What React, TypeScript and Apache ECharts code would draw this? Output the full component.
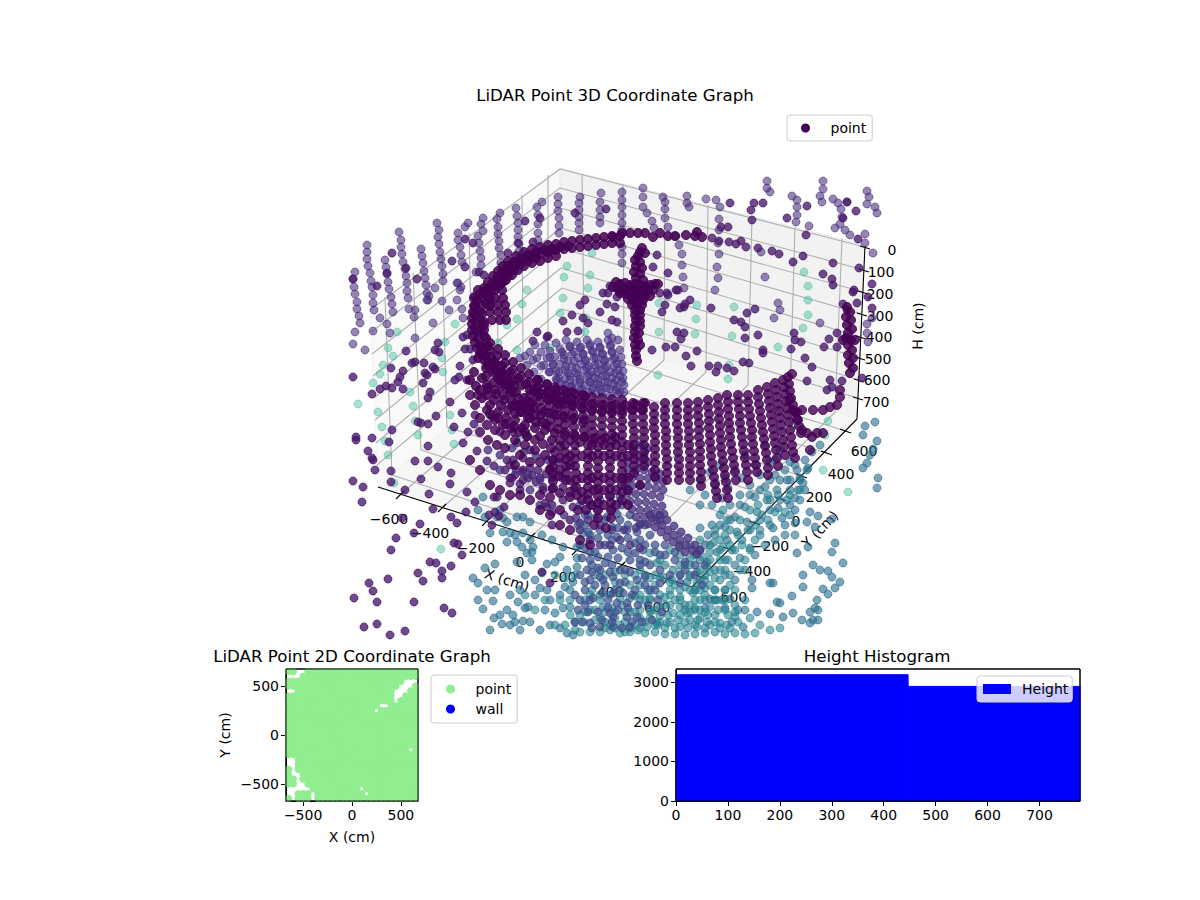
import { useEffect, useRef } from 'react'
import * as echarts from 'echarts'

// ── 3D panel: points, in the projected view plane ──
const lightPoints = [397,332,388,348,393,356,383,365,380,374,373,383,410,392,442,358,443,372,445,342,455,324,498,343,507,325,517,350,517,319,522,304,527,290,567,266,564,277,563,298,560,313,585,332,586,318,550,348,592,253,590,275,588,288,
  697,305,696,319,695,334,734,307,732,336,778,347,804,272,808,286,808,300,808,315,803,328,659,303,659,332,658,375,728,379,729,365,
  358,404,378,412,413,406,382,427,415,421,418,435,452,430,454,444,385,441,388,455,394,483,441,549,450,415,520,437,823,470,848,492,828,421,825,435,793,425]

const palePoints = [355,272,353,279,354,287,355,294,357,302,357,309,359,316,360,323,367,245,367,252,367,259,368,266,370,273,371,281,372,287,373,295,373,303,374,310,
  385,260,386,267,387,274,388,282,389,289,391,297,392,304,393,312,399,232,401,240,401,247,402,254,403,262,405,269,406,276,407,283,407,291,408,298,
  421,249,422,256,423,263,424,271,425,278,426,285,427,293,428,300,437,223,439,230,438,237,439,244,440,252,441,259,442,266,443,274,443,281,
  458,233,458,240,460,247,461,255,462,262,458,283,460,290,468,223,465,227,483,218,481,224,483,231,478,236,479,243,480,251,481,258,481,265,476,272,
  500,213,497,219,498,227,498,234,499,241,499,248,501,255,501,263,502,272,516,208,517,216,518,223,518,230,518,237,519,244,519,251,
  542,202,537,207,538,215,538,224,538,233,538,240,558,197,558,204,558,211,559,218,559,226,559,233,580,197,579,203,579,210,579,217,579,223,579,230,601,193,600,202,600,210,600,217,600,223,
  380,318,387,324,373,331,390,333,365,350,353,344,355,332,409,309,415,310,414,317,415,338,435,288,427,300,429,296,442,301,433,323,457,300,462,309,449,310,463,318,474,296,457,283,461,287,
  767,181,767,188,770,192,823,181,823,189,820,196,822,202,867,191,869,197,867,204,792,196,797,200,797,207,797,215,796,222,809,226,833,199,838,203,841,209,847,202,842,217,840,224,835,228,845,230,850,235,865,234,865,243,873,253,875,207,877,213,
  706,199,716,200,720,207,719,219,719,230,718,243,719,254,717,267,718,278,715,290,687,196,687,203,689,207,622,192,622,200,622,207,622,215,622,223,622,230,622,247,622,254,622,263,643,188,643,197,643,207,647,213,652,221,654,228,
  663,197,665,202,665,209,665,218,668,227,676,236,679,245,682,254,682,265,683,277,684,288,765,277,761,252,778,303,780,310,774,318,820,323,867,324,872,318,867,333,868,342]

const outerSteel = [875,422,865,426,863,435,877,441,873,449,870,455,867,463,863,468,878,478,877,488,
  808,468,803,483,798,490,795,498,787,500,778,508,790,505,795,510,782,518,773,528,785,525,795,523,810,512,818,516,807,522,815,527,832,519,835,543,832,552,797,553,808,547,813,565,820,570,828,571,843,563,832,577,840,582,803,575,803,587,792,596,823,589,828,594,835,588,817,600,815,608,818,610,810,612,818,620,793,613,777,602,780,603,770,583,773,583,752,580,752,588,757,612,745,610,738,610,725,608,732,622,743,627,770,614,783,617,802,620,810,623,813,620,730,599,722,600,710,599,
  473,578,478,583,485,568,495,564,483,609,493,601,507,610,518,602,528,607,494,618,490,630,502,624,513,615,515,622,523,621,525,608,555,613,563,608,570,607,520,630,567,633,573,635,603,607,540,588,547,590,547,564,555,562,560,557,577,558,577,567,567,570,573,582,565,587,542,573,532,560,532,552,527,553,517,562,503,518,503,532,510,533,517,542,507,542,515,535,522,547,
  483,497,485,517,478,510,500,510,490,533,497,517,517,517,523,517,507,522,530,522,523,533,530,540,542,535,552,540,563,547,577,547,583,533,533,547,
  525,575,535,580,550,600,560,595,570,590,535,595,545,610,500,615,510,625,530,622,540,630,550,625,560,628,575,622,487,590,478,600,495,590,510,595,520,590]

const axisBand = [807,470,800,478,790,490,780,500,770,510,760,520,750,530,742,540,732,550,725,560,715,570,705,580,695,590,
  797,470,787,480,777,490,767,500,757,512,747,522,737,532,727,540,717,552,707,562,697,572,687,582,
  775,475,765,487,755,497,745,507,735,517,725,527,715,535,705,545,695,555,685,565,
  790,462,770,462,760,475,750,485,740,495,730,505,720,515,712,525,708,535,700,528,742,478,728,488,722,498,712,505,
  735,470,725,478,715,485,705,495,700,505,720,465,710,472,700,480,690,490,745,455,765,445,780,450,755,465,
  800,500,790,515,770,525,760,535,750,548,740,558,735,565,725,575,715,590,705,600,695,610,685,605,
  800,480,790,480,780,480,770,480,785,470,775,460,795,465,805,460,812,452,820,445,
  760,490,750,495,740,505,730,520,720,525,710,545,700,560,690,575,680,575,
  805,490,795,535,785,535,775,540,765,545,755,555,745,570,735,580,725,590,715,600,705,608]

const tealPoints = [657,623,647,627,667,623,680,627,673,613,687,613,697,627,707,622,720,623,660,607,650,600,680,597,693,593,670,590,690,577,707,567,720,560,723,547,713,543,703,557,673,570,663,577,657,563,650,553,727,520,723,510,
  645,633,655,632,665,634,675,634,685,635,695,634,705,633,715,632,725,634,735,633,745,634,640,618,650,612,660,616,670,605,680,607,690,605,700,610,710,607,717,600,725,590,700,600,690,620,705,628,715,615,727,625,735,617,
  640,600,648,590,655,585,665,597,675,585,685,587,697,583,705,575,715,578,725,570,690,565,680,555,672,580,665,565,655,575,645,575,640,585,
  600,632,610,630,620,633,630,632,638,630,595,620,605,622,615,618,625,622,635,612,612,608,622,605,630,612,600,600,590,610,584,622,580,632,635,596,
  620,590,630,585,640,570,615,582,592,590,585,600,
  650,610,658,625,668,615,678,620,688,628,698,620,708,615,718,610,728,615,738,622,640,628,630,628,620,625,610,625,600,618,
  690,590,700,590,710,585,720,580,730,575,735,590,725,600,715,600,705,595,695,600,685,610,675,600,665,605,655,610,645,600,
  700,570,710,560,720,550,730,545,738,535,725,535,715,530,700,540,690,545,680,545,670,550,660,560,
  735,605,745,600,750,618,760,625,770,630,780,628,755,633,
  740,570,745,560,750,550,755,540,760,530,768,520,775,512,785,512,
  595,575,605,575,615,572,625,575,635,575,650,578,660,578,670,582,680,590,695,590,705,588,715,590,730,585,
  590,595,600,595,610,595,620,598,630,598,640,595,650,598,660,595,670,595,680,600,695,608,705,612,715,622,725,610,735,612,
  585,612,595,610,605,612,615,612,625,612,640,610,650,618,660,622,670,622,680,615,690,612,700,618,710,625,720,628,730,628,
  590,632,605,628,615,628,625,632,635,625,645,622,655,625,665,628,675,628,685,622,695,625,
  700,580,710,572,720,570,728,560,735,550,742,545,748,530,755,525,762,515,770,500,778,495,790,495,800,490,
  680,565,690,558,700,550,710,552,720,540,730,530,740,520,750,510,758,505,768,495,
  555,575,565,578,575,575,560,600,570,600,580,615,570,615,555,625,565,625,575,630,545,600,535,610,525,595]

const slatePoints = [590,560,587,570,605,563,617,537,613,550,622,548,630,560,635,553,643,550,600,577,590,580,603,580,613,577,620,583,637,580,645,577,613,593,623,593,617,603,627,603,603,593,593,598,585,605,610,613,613,617,627,617,590,623,600,627,613,627,630,627,637,617,650,590,660,583,680,583,702,585,
  585,548,595,552,605,545,590,535,600,530,612,527,620,520,628,538,640,540,650,535,655,545,665,545,675,552,685,562,695,565,660,555,645,562,625,570,612,565,598,568,585,582,592,572,608,600,632,595,
  588,515,598,510,612,510,622,505,630,515,640,525,612,540,605,520,585,525,
  580,505,590,505,600,500,610,497,620,497,585,515,595,518,607,517,617,514,627,530,637,532,645,525,578,525,588,532,598,538,608,535,618,528,628,525,635,543,645,545,655,552,665,555,675,560,685,570,695,575,705,565,
  580,545,590,552,598,557,608,557,618,558,628,552,640,560,650,565,660,570,670,575,680,575,
  582,558,592,565,600,570,610,572,620,570,630,572,640,565,645,585,655,590,635,590,625,582,615,590,605,585,595,585,585,590,580,575,575,595,578,610,588,612,598,612,608,608,618,610,628,608,638,605,648,605,658,600,
  582,622,592,628,602,620,612,622,622,628,632,622,642,622,652,620,662,612,580,600,590,600,575,622]

const blobPoints = [625,478,632,478,640,478,648,478,656,480,663,482,625,485,632,486,640,486,648,486,656,488,663,490,628,493,636,494,644,494,652,495,660,497,630,501,638,502,646,502,654,504,662,506,632,509,640,510,648,510,656,512,664,514,636,517,644,517,652,518,660,520,640,524,648,524,
  650,515,656,520,662,525,668,530,674,535,680,540,686,545,692,550,697,554,655,527,661,532,667,537,673,542,679,547,685,552,660,515,667,520,674,526,681,532,688,538,695,545,700,550,
  628,470,636,470,644,470,652,472,660,474,640,462,648,462,628,462,636,455,644,455,633,448,640,445,648,448,
  488,450,500,455,512,448,524,452,536,456,548,460,558,462,500,470,516,470,528,474,540,480,552,478,562,478,574,488,
  530,490,540,505,552,512,564,515,576,518,588,520,600,525,612,530,624,530,636,528,
  580,530,590,540,600,545,610,545,620,540,630,545,640,548]

const fanColumns = [520,358,527,365,534,372,541,379,530,352,537,358,544,365,550,372,556,379,
  550,357,553,364,556,371,559,378,562,385,562,352,564,359,566,366,568,373,570,380,572,387,
  570,347,572,354,574,361,576,368,578,375,580,382,582,389,584,396,581,347,583,354,585,361,587,368,589,375,590,382,592,389,
  590,344,592,351,594,358,595,365,597,372,598,379,600,386,602,393,600,347,602,354,604,361,605,368,606,375,608,382,610,389,610,396,
  611,345,612,352,613,359,614,366,615,373,616,380,617,387,618,394,620,350,621,357,622,364,623,371,623,378,624,385,624,392,612,338,618,340,608,333,
  525,356,533,360,541,366,549,372,557,380,565,385,535,345,541,352,547,358,553,365,559,372,565,379,571,386,
  545,345,550,351,555,357,560,364,565,370,570,376,575,383,580,390,556,343,560,349,564,355,568,361,572,367,576,373,580,379,584,385,588,392,
  566,340,570,346,574,352,578,358,581,364,584,370,587,376,590,382,593,388,596,394,577,342,580,348,583,354,586,360,589,366,592,372,595,378,598,384,601,390,
  587,340,590,346,593,352,596,358,598,364,601,370,603,376,605,382,607,388,598,342,600,348,603,354,605,360,607,366,610,372,612,378,614,384,616,390,
  608,340,610,346,612,352,615,358,617,364,618,370,620,376,622,382,620,392]

const ringColumns = [538,380,538,387,539,394,540,401,541,408,541,415,542,422,547,385,548,392,548,399,549,406,549,413,550,420,550,427,
  555,387,556,394,556,401,557,408,557,415,558,422,558,429,563,390,564,397,564,404,565,411,565,418,565,425,565,432,
  572,392,572,399,573,406,573,413,573,420,574,427,574,434,582,395,582,402,583,409,583,416,583,423,584,430,584,437,
  592,397,592,404,592,411,592,418,592,425,593,432,593,439,602,398,602,405,602,412,602,419,602,426,602,433,602,440,
  612,399,612,406,612,413,612,420,612,427,612,434,612,441,622,400,622,407,622,414,622,421,622,428,622,435,622,442,
  633,403,633,410,633,417,633,424,634,431,634,438,634,445,634,452,634,459,634,466,634,473,643,403,643,410,643,417,643,424,644,431,644,438,644,445,644,452,644,459,644,466,
  654,407,654,414,654,421,654,428,655,435,655,442,655,449,655,456,655,463,655,470,655,477,
  665,403,665,410,665,417,665,424,666,431,666,438,666,445,666,452,667,459,667,466,667,473,667,480,
  677,403,677,410,677,417,677,424,678,431,678,438,678,445,678,452,679,459,679,466,679,473,679,480,
  688,403,688,410,688,417,688,424,689,431,689,438,689,445,690,452,690,459,690,466,690,473,690,480,
  698,402,698,409,698,416,699,423,699,430,699,437,700,444,700,451,700,458,700,465,701,472,701,479,701,486,
  708,400,708,407,709,414,709,421,709,428,710,435,710,442,711,449,711,456,712,463,713,470,714,477,715,484,716,491,717,498,
  718,398,718,405,719,412,719,419,720,426,720,433,721,440,721,447,722,454,723,461,724,468,725,475,726,482,727,490,728,498,
  727,395,728,402,728,409,729,416,729,423,730,430,730,437,731,444,732,451,733,458,734,465,735,472,736,480,
  738,395,738,402,739,409,740,416,740,423,741,430,742,437,743,444,744,451,745,458,746,465,747,472,748,480,
  748,395,748,402,749,409,750,416,751,423,752,430,752,437,753,444,754,451,755,458,756,465,757,472,
  758,390,758,397,759,404,760,411,761,418,762,425,763,432,764,439,765,446,766,453,767,460,768,468,768,475,
  767,387,768,394,769,401,770,408,771,415,772,422,773,429,774,436,775,443,776,450,777,458,778,466,
  775,383,776,390,777,397,778,404,779,411,780,418,781,425,782,432,783,440,784,447,785,455,
  783,380,784,387,785,394,786,401,787,408,788,415,789,422,790,430,791,437,792,445,793,452,795,458,
  788,377,789,384,790,391,791,398,793,405,795,412,797,419,799,426,801,433,792,374,
  797,412,802,410,813,410,823,410,830,407,837,405,840,397,840,390,790,400,793,410,798,420,802,430,807,433,812,437,817,433,823,433,810,450,
  565,445,565,452,566,459,566,466,566,473,566,480,575,445,575,452,575,459,575,466,576,473,576,480,576,487,
  588,445,588,452,588,459,588,466,588,473,588,480,588,487,588,494,588,500,598,447,598,454,598,461,598,468,598,475,598,482,598,489,598,496,598,503,598,510,598,518,
  610,447,610,454,610,461,610,468,610,475,610,482,610,489,610,496,611,503,611,510,611,518,622,450,622,457,622,464,622,471,622,478,622,485,622,492,622,500,553,460,553,467,553,474,553,481,553,488,
  594,525,606,528,586,510,582,500,577,495,570,492,
  487,410,495,420,503,425,511,428,519,432,527,436,535,440,543,444,551,448,505,435,515,440,525,445,535,450,545,455,555,452,560,446,495,430,487,425,480,418,475,405,470,395,478,395,520,455,530,462,540,462,550,470,560,470,570,465,515,465,505,448,497,445,488,440,480,432,540,495,550,497,560,493,570,497,578,510,560,510,550,515,540,510,530,500,520,495,510,495,500,490,490,485,480,470,470,460,560,525,570,530,580,540,590,545,
  560,440,570,440,580,442,592,445,604,445,616,445,628,445,560,458,570,456,582,456,592,456,604,456,616,456,628,456,558,476,570,480,582,478,592,478,604,478,616,478,628,478,
  594,490,604,490,616,490,628,490,640,485,582,492,592,505,604,505,616,505,628,505]

const ringBand = [620,236,612,236,604,237,596,238,588,239,580,240,572,241,564,242,556,244,548,245,540,247,532,249,524,252,516,256,508,261,503,266,498,271,493,276,488,282,484,288,480,294,477,300,475,306,473,312,472,318,472,324,472,330,473,336,475,342,477,348,480,354,484,360,488,366,493,372,498,378,504,384,510,389,
  620,243,612,243,604,244,596,245,588,246,580,247,572,248,564,249,556,250,548,252,540,254,532,256,524,259,516,263,510,268,506,273,500,279,495,285,491,291,488,297,486,303,
  556,256,548,258,540,261,532,263,524,266,518,270,512,275,506,280,500,285,495,290,502,290,495,298,503,298,490,305,498,305,505,305,490,312,498,312,506,312,492,320,500,320,506,320,484,325,480,312,480,320,480,330,484,336,
  490,350,497,356,505,363,513,370,521,376,529,382,537,387,547,392,556,396,566,399,575,401,585,403,595,404,605,405,615,405,625,405,635,404,645,403,
  482,346,490,343,498,349,505,355,513,362,521,368,529,374,537,380,547,384,556,389,566,392,575,394,585,396,
  486,368,494,368,500,372,506,376,514,380,522,385,530,390,538,396,548,400,558,404,
  480,390,487,395,494,400,501,405,508,410,515,413,487,385,495,390,503,395,511,400,519,405,527,410,535,415,490,405,498,412,506,418,500,380,508,386,516,392,524,398,532,403,
  515,420,525,425,535,428,545,430,555,433,565,435,575,436,585,437,595,438,605,438,615,437,540,436,552,440,525,432,
  478,290,486,290,474,298,482,298,490,298,474,306,482,306,490,306,474,314,482,314,476,322,484,322,476,330,484,330,478,338,486,338,480,346,488,346,483,354,491,357,488,362,496,364,494,370,502,372,500,377,508,380,506,383,514,386,512,390,
  568,246,560,247,552,249,544,250,536,252,528,255,520,259,514,262,508,266,502,272,497,278,492,284,488,290,536,258,528,261,520,265,514,270,508,276,503,282,498,286,
  478,358,486,356,494,362,502,366,510,372,518,378,526,384,534,390,542,394,552,398,562,402,572,405,582,408,592,410,602,411,612,411,622,411,632,410,642,410,
  486,376,494,382,502,386,510,392,518,398,526,402,534,408,544,412,554,414,564,416,574,418,584,420,
  474,372,482,378,488,388,496,394,504,400,512,406,520,412,528,418,536,422,546,424,
  470,380,476,386,482,398,490,414,498,418,506,424,514,426,522,428,530,395,530,402,530,410,530,418,522,405,522,412,515,405,
  613,237,622,233,630,233,638,233,645,233,653,237,660,233,668,236,675,236,686,235,695,236,697,232,702,237,
  642,248,640,252,638,256,645,253,635,260,640,262,636,266,642,268,634,272,640,274,636,278,643,280,616,282,620,284,625,283,630,285,635,284,640,285,645,286,650,285,655,284,658,284,613,287,618,289,623,290,628,290,633,290,638,290,643,291,648,291,653,290,620,293,625,294,630,295,635,295,640,295,645,296,650,296,628,299,633,300,638,300,643,300,632,305,637,305,642,305,635,310,640,310,635,315,640,315,636,320,640,321,635,326,640,326,635,332,639,333,634,338,638,340,635,345,640,345,636,350,636,356,637,361,
  847,307,850,312,846,317,851,320,847,325,852,329,848,333,846,338,851,340,848,345,852,350,848,355,853,358,849,363,853,368,850,373,855,340,843,340]

const scatterDark = [730,203,754,203,763,203,751,210,752,220,787,218,807,206,847,202,856,211,843,218,806,235,858,239,721,227,728,227,712,238,719,241,729,242,736,244,741,241,746,247,758,248,772,251,779,254,793,262,803,256,833,263,823,274,832,279,833,285,859,268,872,284,854,290,857,303,868,297,872,308,853,292,843,304,847,310,711,308,755,309,747,313,734,320,741,322,745,327,758,335,745,338,794,333,795,340,801,342,824,347,837,347,837,333,829,339,763,350,763,353,791,349,805,358,812,367,743,362,749,363,709,366,718,366,716,372,727,368,734,371,697,351,691,366,686,356,681,339,684,333,677,332,675,347,666,347,652,350,665,305,684,307,690,300,685,304,680,308,668,295,676,290,678,290,667,293,660,293,662,312,668,273,653,267,657,255,807,381,830,380,842,381,827,390,862,378,832,387,
  356,437,356,440,372,438,368,451,372,458,373,460,375,470,353,481,363,487,362,502,391,471,391,482,405,490,415,461,428,461,438,467,451,473,421,479,450,484,429,494,467,492,433,509,451,517,457,523,466,512,420,524,396,538,414,533,391,550,454,543,458,544,462,555,430,562,436,563,451,566,418,573,442,571,442,578,423,581,388,579,369,583,373,591,377,602,354,598,414,602,444,608,452,613,364,627,377,624,405,631,390,635,428,446,389,442,392,430,418,422,421,423,428,424,436,416,454,427,462,413,468,432,463,443,474,424,477,451,487,461,494,466,510,465,450,402,475,415,494,497,497,497,475,502,489,515,495,512,499,516,492,525,504,507,510,483,520,484,523,480,532,475,540,478,543,490,552,489,545,503,552,505,542,572,550,583,402,518,
  353,377,391,368,400,377,403,371,398,382,386,386,380,389,392,388,403,389,412,363,415,362,424,363,433,367,435,369,425,373,427,375,423,383,430,392,438,343,435,350,439,352,406,351,467,335,463,337,470,349,465,349,473,360,460,366,459,377,467,380,455,380,428,398,372,394,487,390,
  533,341,547,337,537,332,548,336,563,321,567,332,578,331,572,315,580,305,585,300,603,293,608,293,600,312,612,320,617,322,588,323,583,318,610,286,617,297,615,307,607,304,
  392,253,406,268,387,273,417,279,452,261,465,267,465,239,473,243,484,275,479,272,377,286,353,279,525,221,518,243,540,218,533,242,508,253,575,213,606,209,
  515,475,522,472,530,468,538,470,546,474,528,478,536,482,520,490,512,478,505,470,
  492,417,500,432,513,432,527,437,517,443,530,450,507,460,513,460,523,458,553,460,550,468,523,470,510,478,543,487,563,487,563,500,573,507,570,520,580,523,552,525,547,507]

// ── 2D panel ──
const gridX = [-650,-600,-550,-500,-450,-400,-350,-300,-250,-200,-150,-100,-50,0,50,100,150,200,250,300,350,400,450,500,550,600,650]
const gridY = [650,600,550,500,450,400,350,300,250,200,150,100,50,0,-50,-100,-150,-200,-250,-300,-350,-400,-450,-500,-550,-600,-650]
// occupancy: # has a point, . is a gap
const pointRows = [
  '##..#######################',
  '...########################',
  '########################...',
  '#######################...#',
  '..####################...##',
  '######################..###',
  '######################.####',
  '###################..######',
  '##################.########',
  '###########################',
  '###########################',
  '###########################',
  '###########################',
  '###########################',
  '###########################',
  '###########################',
  '#########################.#',
  '###########################',
  '..#########################',
  '..#########################',
  '#.#########################',
  '#..########################',
  '##.########################',
  '##..#######################',
  '.....##########.###########',
  '..###.##########.##########',
  '#.###.#####################',
]
const wallPoints: number[][] = []

// ── Height histogram ──
const binEdges = [0, 447, 778]
const binCounts = [3195, 2899]
const ticks2D = [-500, 0, 500]
const histXTicks = [0, 100, 200, 300, 400, 500, 600, 700]
const histYTicks = [0, 1000, 2000, 3000]

// ── 3D tick labels ──
const xTickLabels = ['−600', '−400', '−200', '0', '200', '400', '600']
const yTickLabels = ['−600', '−400', '−200', '0', '200', '400', '600']
const hTickLabels = ['0', '100', '200', '300', '400', '500', '600', '700']

const FONT = 'DejaVu Sans'

function pairs(flat: number[]) {
  const out: number[][] = []
  for (let i = 0; i + 1 < flat.length; i += 2) out.push([flat[i], flat[i + 1]])
  return out
}

function occupiedPoints() {
  const out: number[][] = []
  pointRows.forEach((row, j) => {
    gridX.forEach((x, i) => {
      if (row[i] === '#') out.push([x, gridY[j]])
    })
  })
  return out
}

// frame of the 3D box in page pixels
const xTickPos = [[400,495],[442,508],[486,522],[531,537],[576,551],[621,566],[667,580]]
const yTickPos = [[702,577],[729,549],[755,523],[781,499],[802,476],[827,453],[846,431]]
const xWallBase = [[584,335],[624,347],[664,360],[706,372],[748,385],[790,398],[835,412]]
const xWallTop = [[582,174],[623,184],[665,194],[708,205],[752,216],[795,227],[842,239]]
const yWallBase = [[392,475],[421,450],[447,427],[473,405],[498,383],[523,362],[548,340]]
const yWallTop = [[385,297],[413,273],[442,253],[469,233],[497,213],[522,195],[548,175]]
const hRight = [[865,247],[864,270],[863,292],[862,314],[861,337],[860,358],[859,380],[858,398]]
const hBack = [[560,169],[560,188],[560,208],[561,228],[561,248],[561,268],[562,288],[562,309]]
const hLeft = [[370,310],[371,332],[372,354],[373,376],[374,398],[375,420],[376,443],[377,465]]
const xLabelPos = [[389,519],[430,533],[476,548],[520,562],[563,577],[610,592],[657,607]]
const yLabelPos = [[728,597],[752,571],[770,546],[796,521],[819,497],[841,474],[864,451]]
const hLabelPos = [[892,250],[881,272],[880,294],[880,316],[879,337],[878,359],[877,380],[876,402]]

function seg(a: number[], b: number[], stroke: string, lineWidth: number) {
  return { type: 'line', z: 0, silent: true, shape: { x1: a[0], y1: a[1], x2: b[0], y2: b[1] }, style: { stroke, lineWidth } }
}

function label(text: string, x: number, y: number, rotation = 0) {
  return {
    type: 'text', z: 1, silent: true, x, y, rotation, originX: 0, originY: 0,
    style: { text, fill: '#000', font: `14px "${FONT}"`, textAlign: 'center', textVerticalAlign: 'middle' },
  }
}

function frameElements() {
  const grid = '#b0b0b0'
  const els: any[] = [
    { type: 'polygon', z: 0, silent: true, shape: { points: [[560,168],[370,310],[378,487],[562,328]] }, style: { fill: '#f9f9f9', stroke: '#f2f2f2' } },
    { type: 'polygon', z: 0, silent: true, shape: { points: [[560,168],[865,245],[857,419],[562,328]] }, style: { fill: '#f2f2f2', stroke: '#ebebeb' } },
    { type: 'polygon', z: 0, silent: true, shape: { points: [[378,487],[692,587],[857,419],[562,328]] }, style: { fill: '#f6f6f6', stroke: '#f0f0f0' } },
    // spines of the 2D panels sit on top of their marks
    { type: 'rect', z: 10, silent: true, shape: { x: 286, y: 669, width: 132, height: 132 }, style: { fill: 'none', stroke: '#000', lineWidth: 1 } },
    { type: 'rect', z: 10, silent: true, shape: { x: 676, y: 669, width: 404, height: 132 }, style: { fill: 'none', stroke: '#000', lineWidth: 1 } },
  ]
  xTickPos.forEach((p, i) => {
    els.push(seg(p, xWallBase[i], grid, 1.1), seg(xWallBase[i], xWallTop[i], grid, 1.1))
    els.push(seg([p[0] + 4, p[1] - 4], [p[0] - 4, p[1] + 4], '#000', 1.1))
    els.push(label(xTickLabels[i], xLabelPos[i][0], xLabelPos[i][1]))
  })
  yTickPos.forEach((p, i) => {
    els.push(seg(p, yWallBase[i], grid, 1.1), seg(yWallBase[i], yWallTop[i], grid, 1.1))
    els.push(seg([p[0] - 6, p[1] - 2], [p[0] + 5, p[1] + 2], '#000', 1.1))
    els.push(label(yTickLabels[i], yLabelPos[i][0], yLabelPos[i][1]))
  })
  hRight.forEach((p, i) => {
    els.push(seg(p, hBack[i], grid, 1.1), seg(hBack[i], hLeft[i], grid, 1.1))
    els.push(seg([p[0] - 5, p[1] - 1], [p[0] + 5, p[1] + 2], '#000', 1.1))
    els.push(label(hTickLabels[i], hLabelPos[i][0], hLabelPos[i][1]))
  })
  els.push(seg([378,487], [692,587], '#000', 1.1), seg([692,587], [857,419], '#000', 1.1), seg([865,246], [857,419], '#000', 1.1))
  els.push(label('X (cm)', 507, 580, -0.31), label('Y (cm)', 820, 529, 0.8), label('H (cm)', 918, 326, 1.55))
  return els
}

function view(flat: number[], rgb: string, alpha: number, size = 8) {
  return {
    type: 'scatter', name: 'point', xAxisIndex: 0, yAxisIndex: 0,
    data: pairs(flat), symbolSize: size, silent: true,
    itemStyle: { color: `rgba(${rgb},${alpha})`, borderColor: `rgba(${rgb},${alpha})`, borderWidth: 1, opacity: 1 },
  }
}

function histItem(_: any, api: any) {
  const a = api.coord([api.value(0), api.value(2)])
  const b = api.coord([api.value(1), 0])
  return { type: 'rect', shape: { x: a[0], y: a[1], width: b[0] - a[0], height: b[1] - a[1] }, style: { fill: '#0000ff', stroke: '#0000ff', lineWidth: 1 } }
}

function axis2D(gridIndex: number, min: number, max: number, ticks: number[], name: string, nameGap: number) {
  return {
    gridIndex, type: 'value', min, max, name, nameGap, nameLocation: 'middle',
    nameTextStyle: { color: '#000', fontSize: 14, fontFamily: FONT },
    splitLine: { show: false },
    axisLine: { show: true, onZero: false, lineStyle: { color: '#000', width: 1 } },
    axisTick: { show: true, length: 5, customValues: ticks, lineStyle: { color: '#000', width: 1 } },
    axisLabel: { show: true, color: '#000', fontSize: 14, fontFamily: FONT, margin: 7, customValues: ticks, formatter: (v: number) => String(v).replace('-', '−') },
  }
}

function legendBase(left: number, top: number) {
  return {
    left, top, orient: 'vertical', selectedMode: false, itemWidth: 28, itemHeight: 9, itemGap: 6,
    backgroundColor: 'rgba(255,255,255,0.8)', borderColor: '#cccccc', borderWidth: 1, borderRadius: 3,
    textStyle: { color: '#000', fontSize: 14, fontFamily: FONT, padding: [0, 0, 0, 6] },
  }
}

const titleStyle = { fontSize: 16.67, fontWeight: 'normal', color: '#000', fontFamily: FONT }

export default function App() {
  const ref = useRef<HTMLDivElement>(null)

  useEffect(() => {
    if (!ref.current) return
    const chart = echarts.init(ref.current, null, { renderer: 'svg' })
    chart.setOption({
      animation: false,
      backgroundColor: '#fff',
      title: [
        { text: 'LiDAR Point 3D Coordinate Graph', left: 610, top: 82, textAlign: 'center', textStyle: titleStyle },
        { text: 'LiDAR Point 2D Coordinate Graph', left: 347, top: 643, textAlign: 'center', textStyle: titleStyle },
        { text: 'Height Histogram', left: 872, top: 643, textAlign: 'center', textStyle: titleStyle },
      ],
      grid: [
        { left: 352, top: 136, width: 527, height: 500, show: false },
        { left: 286, top: 669, width: 132, height: 132, show: true, borderColor: '#000', borderWidth: 1, backgroundColor: '#fff' },
        { left: 676, top: 669, width: 404, height: 132, show: true, borderColor: '#000', borderWidth: 1, backgroundColor: '#fff' },
      ],
      xAxis: [
        { gridIndex: 0, type: 'value', min: 352, max: 879, show: false },
        axis2D(1, -675, 675, ticks2D, 'X (cm)', 29),
        axis2D(2, 0, 778, histXTicks, '', 0),
      ],
      yAxis: [
        { gridIndex: 0, type: 'value', min: 136, max: 636, inverse: true, show: false },
        axis2D(1, -675, 675, ticks2D, 'Y (cm)', 54),
        axis2D(2, 0, 3339, histYTicks, '', 0),
      ],
      legend: [
        { ...legendBase(787, 115), padding: [6, 6, 6, 14], data: [{ name: 'point', icon: 'circle', itemStyle: { color: '#440154', borderWidth: 0, opacity: 1 } }] },
        { ...legendBase(431, 675), padding: [7, 6, 7, 15], data: [
          { name: 'point', icon: 'circle', itemStyle: { color: '#90ee90', borderWidth: 0, opacity: 1 } },
          { name: 'wall', icon: 'circle', itemStyle: { color: '#0000ff', opacity: 1 } },
        ] },
        { ...legendBase(977, 676), itemHeight: 10, padding: [6, 4, 6, 6], data: [{ name: 'Height', icon: 'rect', itemStyle: { color: '#0000ff' } }] },
      ],
      graphic: { elements: frameElements() },
      series: [
        view(lightPoints, '53,183,150', 0.42),
        view(palePoints, '71,45,123', 0.58),
        view(outerSteel, '42,110,142', 0.62),
        view(axisBand, '44,114,142', 0.6),
        view(tealPoints, '38,130,142', 0.58),
        view(scatterDark, '72,24,106', 0.78),
        view(slatePoints, '59,82,139', 0.72),
        view(fanColumns, '72,48,130', 0.62),
        view(blobPoints, '70,50,126', 0.78),
        view(ringColumns, '68,1,84', 0.8, 9),
        view(ringBand, '68,1,84', 0.85, 9),
        {
          type: 'scatter', name: 'point', xAxisIndex: 1, yAxisIndex: 1, silent: true,
          data: occupiedPoints(), symbolSize: 7.4, itemStyle: { color: '#90ee90', opacity: 1 },
        },
        {
          type: 'scatter', name: 'wall', xAxisIndex: 1, yAxisIndex: 1, silent: true,
          data: wallPoints, symbolSize: 7.4, itemStyle: { color: '#0000ff', opacity: 1 },
        },
        {
          type: 'custom', name: 'Height', xAxisIndex: 2, yAxisIndex: 2, silent: true,
          renderItem: histItem,
          encode: { x: [0, 1], y: 2 },
          data: binCounts.map((c, i) => [binEdges[i], binEdges[i + 1], c]),
          itemStyle: { color: '#0000ff' },
        },
      ],
    })
    return () => chart.dispose()
  }, [])

  return <div ref={ref} style={{ position: 'absolute', left: 0, top: 0, width: 1200, height: 900 }} />
}
